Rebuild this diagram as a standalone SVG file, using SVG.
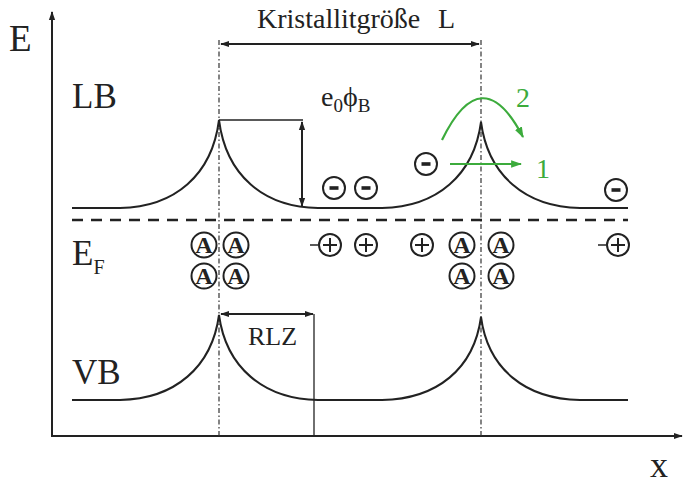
<svg xmlns="http://www.w3.org/2000/svg" width="685" height="488" viewBox="0 0 685 488">
<style>
.t{font-family:"Liberation Serif","Times New Roman",serif;fill:#222}
.ln{fill:none;stroke:#222;stroke-width:2}
.thin{fill:none;stroke:#222;stroke-width:1.3}
.dd{fill:none;stroke:#333;stroke-width:1.2;stroke-dasharray:5 2.5 1.5 2.5}
.c{fill:#fff;stroke:#222;stroke-width:2}
.a{font-family:"Liberation Serif","Times New Roman",serif;font-weight:bold;font-size:24px;fill:#222;text-anchor:middle}
.g{fill:none;stroke:#3cab3c;stroke-width:2.2}
.gt{font-family:"Liberation Serif","Times New Roman",serif;fill:#3cab3c;font-size:28px}
</style>
<defs>
<marker id="ah" viewBox="0 0 10 10" refX="9" refY="5" markerWidth="9" markerHeight="9" markerUnits="userSpaceOnUse" orient="auto-start-reverse"><path d="M0,1.5 L10,5 L0,8.5 Z" fill="#222"/></marker>
<marker id="ga" viewBox="0 0 10 10" refX="9" refY="5" markerWidth="11" markerHeight="11" markerUnits="userSpaceOnUse" orient="auto"><path d="M0,1.5 L10,5 L0,8.5 Z" fill="#3cab3c"/></marker>
<g id="minus"><circle class="c" r="11"/><rect x="-4.5" y="-1.8" width="9" height="3.6" fill="#222"/></g>
<g id="plus"><circle class="c" r="11"/><path d="M-7,0 H7 M0,-7 V7" stroke="#222" stroke-width="2"/></g>
<g id="acc"><circle class="c" r="12.5"/><text class="a" y="8">A</text></g>
</defs>
<g id="axes">
<line class="ln" x1="52" y1="436" x2="52" y2="12" stroke-width="2.5" marker-end="url(#ah)"/>
<line class="ln" x1="51" y1="436" x2="682" y2="436" stroke-width="2.5" marker-end="url(#ah)"/>
<text class="t" x="9" y="51" font-size="37">E</text>
<text class="t" x="650" y="477" font-size="36">x</text>
</g>
<g id="grain-boundaries">
<line class="dd" x1="219" y1="40" x2="219" y2="436"/>
<line class="dd" x1="481" y1="40" x2="481" y2="436"/>
</g>
<g id="bands">
<path class="ln" d="M72,208 L120,208 C175,207 212,175 219,120 C226,175 263,207 318,208 L382,208 C437,207 474,175 481,122 C488,175 525,207 580,208 L628,208"/>
<path class="ln" d="M72,400 L120,400 C175,399 212,367 219,315 C226,367 263,399 318,400 L382,400 C437,399 474,369 481,317 C488,369 525,399 580,400 L628,400"/>
<line x1="72" y1="220" x2="628" y2="220" stroke="#222" stroke-width="2.6" stroke-dasharray="11 8"/>
<text class="t" x="72" y="108" font-size="35">LB</text>
<text class="t" x="72" y="265" font-size="35">E<tspan font-size="20" dy="9">F</tspan></text>
<text class="t" x="72" y="384" font-size="35">VB</text>
</g>
<g id="dimensions">
<line class="ln" x1="221" y1="44" x2="479" y2="44" marker-start="url(#ah)" marker-end="url(#ah)"/>
<text class="t" x="257" y="28" font-size="28">Kristallitgröße</text>
<text class="t" x="438" y="28" font-size="28">L</text>
<line class="thin" x1="219" y1="120" x2="303" y2="120"/>
<line class="ln" x1="302" y1="122" x2="302" y2="206" marker-start="url(#ah)" marker-end="url(#ah)"/>
<text class="t" x="321" y="106" font-size="28">e<tspan font-size="19" dy="6">0</tspan><tspan dy="-6">ϕ</tspan><tspan font-size="19" dy="6">B</tspan></text>
<line class="ln" x1="221" y1="314" x2="313" y2="314" marker-start="url(#ah)" marker-end="url(#ah)"/>
<line class="thin" x1="314" y1="314" x2="314" y2="436"/>
<text class="t" x="248" y="345" font-size="26">RLZ</text>
</g>
<g id="charges">
<use href="#minus" x="334" y="188"/>
<use href="#minus" x="366" y="188"/>
<use href="#minus" x="426" y="164"/>
<use href="#minus" x="616" y="190"/>
<line x1="310" y1="245" x2="318" y2="245" stroke="#222" stroke-width="1.5"/>
<use href="#plus" x="330" y="245"/>
<use href="#plus" x="366" y="245"/>
<use href="#plus" x="422" y="245"/>
<line x1="598" y1="245" x2="606" y2="245" stroke="#222" stroke-width="1.5"/>
<use href="#plus" x="618" y="245"/>
<use href="#acc" x="204" y="245"/>
<use href="#acc" x="236" y="245"/>
<use href="#acc" x="204" y="276"/>
<use href="#acc" x="236" y="276"/>
<use href="#acc" x="462" y="245"/>
<use href="#acc" x="501" y="245"/>
<use href="#acc" x="462" y="276"/>
<use href="#acc" x="501" y="276"/>
</g>
<g id="transport">
<path class="g" d="M442,140 Q482,58 523,137" marker-end="url(#ga)"/>
<line class="g" x1="450" y1="164" x2="521" y2="164" marker-end="url(#ga)"/>
<text class="gt" x="516" y="107">2</text>
<text class="gt" x="536" y="178">1</text>
</g>
</svg>
